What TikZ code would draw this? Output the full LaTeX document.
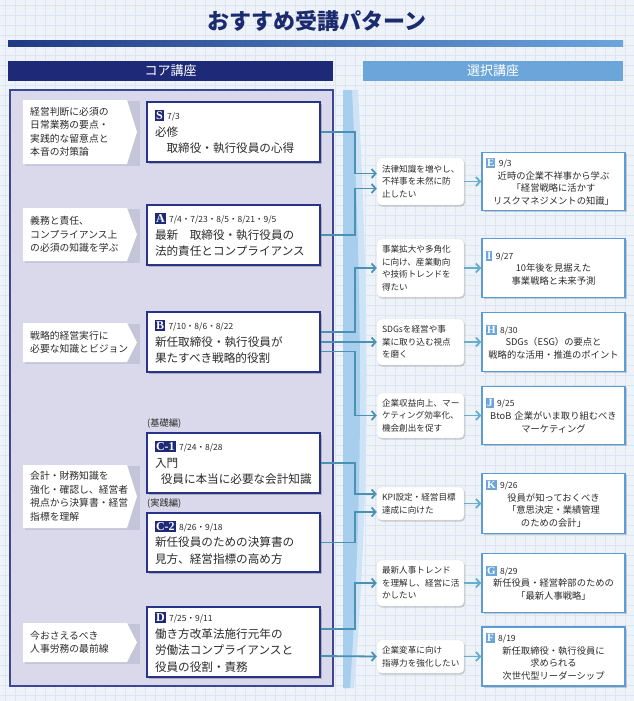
\documentclass[tikz,border=0pt]{standalone}
\usepackage{fontspec}
\setmainfont{Noto Sans CJK JP}
\newfontfamily\badgefont{Liberation Serif}
\usetikzlibrary{arrows.meta,shadows}
\definecolor{bg}{HTML}{EEF3FA}
\definecolor{gridc}{HTML}{DCE5F2}
\definecolor{navy}{HTML}{1E2A78}
\definecolor{navyb}{HTML}{28338A}
\definecolor{barL}{HTML}{1F3A82}
\definecolor{hblue}{HTML}{6BA5DA}
\definecolor{panel}{HTML}{D9D9EB}
\definecolor{panelb}{HTML}{3C4897}
\definecolor{labsh}{HTML}{C4C5D8}
\definecolor{connc}{HTML}{4B91B3}
\definecolor{rarr}{HTML}{67AECA}
\definecolor{rbord}{HTML}{5C9CD6}
\definecolor{txt}{HTML}{2B2B2B}
\definecolor{spineA}{HTML}{A8CEEE}
\definecolor{spineB}{HTML}{CFE3F6}
\definecolor{titlec}{HTML}{1C2A6E}
\newcommand\bdgL[1]{{\setlength\fboxsep{1pt}\colorbox{navy}{\color{white}\badgefont\bfseries\fontsize{12}{12}\selectfont\rule[-0.5pt]{0pt}{9pt}#1}}\hspace{3.5pt}}
\newcommand\bdgR[1]{{\setlength\fboxsep{1pt}\colorbox{hblue}{\color{white}\badgefont\bfseries\fontsize{11}{11}\selectfont\rule[-0.4pt]{0pt}{8pt}#1}}\hspace{3.5pt}}
\newcommand\datetxt[1]{{\fontsize{8.5}{8.5}\selectfont\color{txt}#1}}
\newcommand\leftlab[4]{%
  \fill[labsh] (25,{#2+1}) rectangle (139.5,{#3+2});
  \fill[white] (23,#2) -- (127,#2) -- (137,{(#2+#3)/2}) -- (127,#3) -- (23,#3) -- cycle;
  \node[labtext] (#1) at (30,{(#2+#3)/2}) {#4};}
\begin{document}
\begin{tikzpicture}[x=1pt,y=-1pt,
  cbox/.style={draw=navyb, line width=1.6pt, fill=white, minimum width=173pt, text width=157pt, inner xsep=8pt, inner ysep=2pt, align=left, text=txt, font=\fontsize{11.6}{16.5}\selectfont, drop shadow={shadow xshift=1.5pt,shadow yshift=-1.5pt,opacity=0.3,fill=black!70}},
  ebox/.style={draw=rbord, line width=1.6pt, fill=white, minimum width=143pt, text width=135pt, inner xsep=4pt, inner ysep=2pt, align=center, text=txt, font=\fontsize{9.3}{12.7}\selectfont, drop shadow={shadow xshift=1.5pt,shadow yshift=-1.5pt,opacity=0.25,fill=black!70}},
  rbox/.style={draw=black!12, line width=0.4pt, fill=white, rounded corners=4pt, minimum width=87pt, text width=77pt, inner xsep=5pt, inner ysep=2pt, align=left, text=txt, font=\fontsize{8.6}{12.5}\selectfont, drop shadow={shadow xshift=1pt,shadow yshift=-1.5pt,opacity=0.25,fill=black!70}},
  labtext/.style={anchor=west, align=left, inner sep=0pt, text=txt, font=\fontsize{9.8}{13.5}\selectfont},
  conn/.style={draw=connc, line width=1.8pt, -{Straight Barb[length=4pt,width=9pt]}},
  rconn/.style={draw=rarr, line width=1.8pt, -{Straight Barb[length=4pt,width=9pt]}}]
\useasboundingbox (0,0) rectangle (634,701);
% background
\fill[bg] (0,0) rectangle (634,701);
\foreach \i in {5,15,...,634} \draw[gridc,line width=0.5pt] (\i,0) -- (\i,701);
\foreach \j in {5,15,...,701} \draw[gridc,line width=0.5pt] (0,\j) -- (634,\j);
% title
\node[font=\bfseries\fontsize{22}{22}\selectfont, text=titlec] (title) at (317,21) {おすすめ受講パターン};
\shade[left color=barL, right color=hblue] (8,41) rectangle (623,47);
\node[fill=navy, minimum width=325pt, minimum height=20pt, inner sep=0pt, text=white, font=\fontsize{13}{13}\selectfont] (coreH) at (170.5,71) {コア講座};
\node[fill=hblue, minimum width=260pt, minimum height=20pt, inner sep=0pt, text=white, font=\fontsize{13}{13}\selectfont] (selH) at (493,71) {選択講座};
% panel and spine
\draw[fill=panel, draw=panelb, line width=1.2pt] (10,90) rectangle (333,686);
\fill[spineB] (343,90) -- (358,90) .. controls (369,300) and (371,480) .. (354,688) -- (343,688) -- cycle;
\fill[spineA] (343,90) -- (352,90) .. controls (362,300) and (364,480) .. (350,688) -- (343,688) -- cycle;
% left labels
\leftlab{L1}{100}{164}{経営判断に必須の\\日常業務の要点・\\実践的な留意点と\\本音の対策論}
\leftlab{L2}{208}{261}{義務と責任、\\コンプライアンス上\\の必須の知識を学ぶ}
\leftlab{L3}{323}{362}{戦略的経営実行に\\必要な知識とビジョン}
\leftlab{L4}{465}{528}{会計・財務知識を\\強化・確認し、経営者\\視点から決算書・経営\\指標を理解}
\leftlab{L5}{623}{662}{今おさえるべき\\人事労務の最前線}
% core courses
\node[cbox, minimum height=60pt] (S) at (233.5,132) {\bdgL{S}\datetxt{7/3}\\必修\\\hspace*{1em}取締役・執行役員の心得};
\node[cbox, minimum height=60pt] (A) at (233.5,235) {\bdgL{A}\datetxt{7/4・7/23・8/5・8/21・9/5}\\最新　取締役・執行役員の\\法的責任とコンプライアンス};
\node[cbox, minimum height=60pt] (B) at (233.5,342) {\bdgL{B}\datetxt{7/10・8/6・8/22}\\新任取締役・執行役員が\\果たすべき戦略的役割};
\node[anchor=west, inner sep=0pt, text=txt, font=\fontsize{9.3}{9.3}\selectfont] (kiso) at (147,424) {(基礎編)};
\node[cbox, minimum height=60pt] (C1) at (233.5,463) {\bdgL{C-1}\datetxt{7/24・8/28}\\入門\\\hspace*{0.5em}役員に本当に必要な会計知識};
\node[anchor=west, inner sep=0pt, text=txt, font=\fontsize{9.3}{9.3}\selectfont] (jissen) at (147,503) {(実践編)};
\node[cbox, minimum height=59pt] (C2) at (233.5,542.5) {\bdgL{C-2}\datetxt{8/26・9/18}\\新任役員のための決算書の\\見方、経営指標の高め方};
\node[cbox, minimum height=70pt] (D) at (233.5,642) {\bdgL{D}\datetxt{7/25・9/11}\\働き方改革法施行元年の\\労働法コンプライアンスと\\役員の役割・責務};
% reasons
\node[rbox, minimum height=47pt] (R1) at (420.5,181.5) {法律知識を増やし、\\不祥事を未然に防\\止したい};
\node[rbox, minimum height=58pt] (R2) at (420.5,268) {事業拡大や多角化\\に向け、産業動向\\や技術トレンドを\\得たい};
\node[rbox, minimum height=46pt] (R3) at (420.5,342) {SDGsを経営や事\\業に取り込む視点\\を磨く};
\node[rbox, minimum height=45pt] (R4) at (420.5,415.5) {企業収益向上、マー\\ケティング効率化、\\機会創出を促す};
\node[rbox, minimum height=33pt] (R5) at (420.5,503.5) {KPI設定・経営目標\\達成に向けた};
\node[rbox, minimum height=46pt] (R6) at (420.5,583) {最新人事トレンド\\を理解し、経営に活\\かしたい};
\node[rbox, minimum height=33pt] (R7) at (420.5,656.5) {企業変革に向け\\指導力を強化したい};
% elective courses
\node[ebox, minimum height=58pt] (E) at (553.5,181.5) {\makebox[135pt][l]{\bdgR{E}\datetxt{9/3}}\\近時の企業不祥事から学ぶ\\「経営戦略に活かす\\リスクマネジメントの知識」};
\node[ebox, minimum height=59pt] (I) at (553.5,268) {\makebox[135pt][l]{\bdgR{I}\datetxt{9/27}}\\10年後を見据えた\\事業戦略と未来予測};
\node[ebox, minimum height=59pt] (H) at (553.5,342) {\makebox[135pt][l]{\bdgR{H}\datetxt{8/30}}\\SDGs（ESG）の要点と\\戦略的な活用・推進のポイント};
\node[ebox, minimum height=58pt] (J) at (553.5,415.5) {\makebox[135pt][l]{\bdgR{J}\datetxt{9/25}}\\BtoB 企業がいま取り組むべき\\マーケティング};
\node[ebox, minimum height=60pt] (K) at (553.5,503.5) {\makebox[135pt][l]{\bdgR{K}\datetxt{9/26}}\\役員が知っておくべき\\「意思決定・業績管理\\のための会計」};
\node[ebox, minimum height=59pt] (G) at (553.5,583) {\makebox[135pt][l]{\bdgR{G}\datetxt{8/29}}\\新任役員・経営幹部のための\\「最新人事戦略」};
\node[ebox, minimum height=59pt] (F) at (553.5,656.5) {\makebox[135pt][l]{\bdgR{F}\datetxt{8/19}}\\新任取締役・執行役員に\\求められる\\次世代型リーダーシップ};
% connectors core -> reasons
\coordinate (vx) at (355,0);
\draw[conn] (S.east) -- (S.east -| vx) |- ([yshift=8pt]R1.west);
\draw[conn] (A.east) -- (A.east -| vx) |- ([yshift=-7pt]R1.west);
\draw[conn] ([yshift=10pt]B.east) -- ([yshift=10pt]B.east -| vx) |- (R2.west);
\draw[conn] (B.east) -- (R3.west);
\draw[conn] ([yshift=-9.5pt]B.east) -- ([yshift=-9.5pt]B.east -| vx) |- (R4.west);
\draw[conn] (C1.east) -- (C1.east -| vx) |- ([yshift=9.5pt]R5.west);
\draw[conn] (C2.east) -- (C2.east -| vx) |- ([yshift=-8.5pt]R5.west);
\draw[conn] ([yshift=13pt]D.east) -- ([yshift=13pt]D.east -| vx) |- (R6.west);
\draw[conn] ([yshift=-14pt]D.east) -- (R7.west);
% reasons -> electives
\draw[rconn] (R1.east) -- (E.west);
\draw[rconn] (R2.east) -- (I.west);
\draw[rconn] (R3.east) -- (H.west);
\draw[rconn] (R4.east) -- (J.west);
\draw[rconn] (R5.east) -- (K.west);
\draw[rconn] (R6.east) -- (G.west);
\draw[rconn] (R7.east) -- (F.west);
\end{tikzpicture}
\end{document}
